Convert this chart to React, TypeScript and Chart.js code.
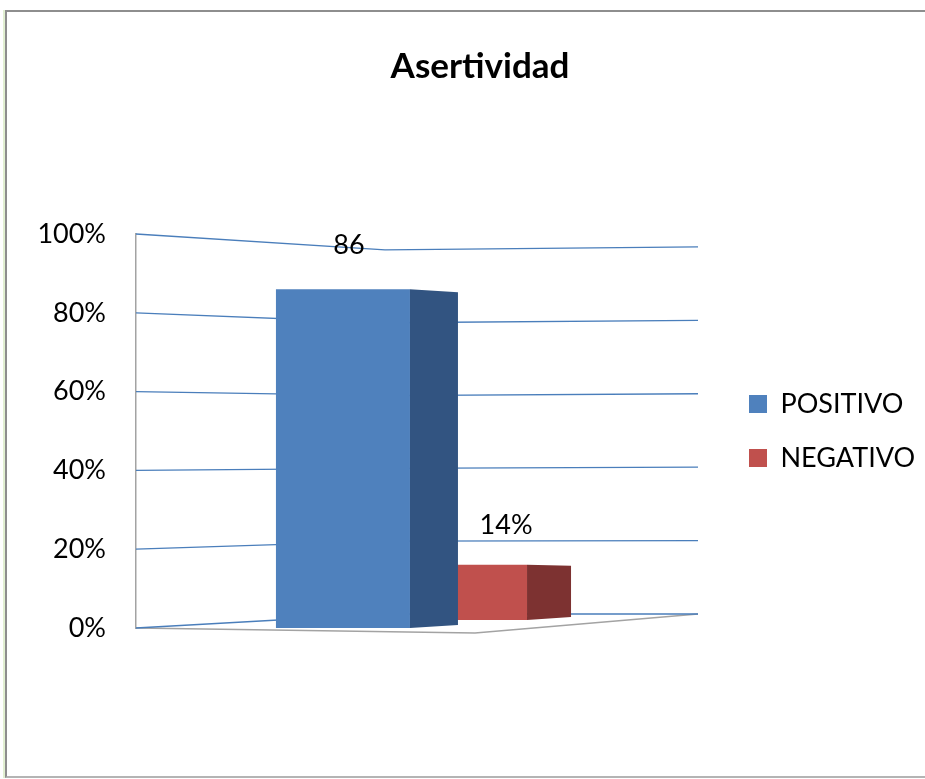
import React, { useEffect, useRef } from 'react';
import { Chart, registerables } from 'chart.js';

Chart.register(...registerables);

// ---- data ----
const TITLE = 'Asertividad';
const CATEGORIES = [''];
const SERIES_NAMES = ['POSITIVO', 'NEGATIVO'];
const POSITIVO = [0.86];
const NEGATIVO = [0.14];
const VALUE_LABELS = ['86', '14%'];
const Y_TICKS = [0, 0.2, 0.4, 0.6, 0.8, 1];

// ---- style ----
const FONT = 'Lato';
const TEXT_SIZE = 27;
const TITLE_SIZE = 35;
const FRONT_COLORS = ['#4F81BD', '#C0504D'];
const SIDE_COLORS = ['#325481', '#7D3231'];
const GRID_COLOR = '#4A7EBB';
const EDGE_COLOR = '#A3A3A3';

// ---- layout ----
const CANVAS_W = 952;
const CANVAS_H = 779;
const PLOT_LEFT = 136;
const PLOT_RIGHT = 698;
const TITLE_CENTER_X = 480;
const LEGEND_GAP = 24;
const LEGEND_PAD = 27;
const LEGEND_BOX = 18;

// 3-D look (offsets applied to the bars that Chart.js positions)
const SIDE_DX = [48, 44];
const SIDE_DY_TOP = [3, 1];
const SIDE_DY_BOTTOM = [-3, -3];
const SERIES_LIFT = [0, 8];
const WALL_DEPTH_X = 249;
const BACK_DROP = 14;
const BACK_SCALE = 0.924;
const BACK_TILT = 3;
const FLOOR_FRONT_DX = 339;
const FLOOR_FRONT_DY = 5;
const LABEL_DX = [6, 15];
const LABEL_GAP = [44, 40];

const threeD = {
  id: 'threeD',
  beforeDatasetsDraw(chart: any) {
    const { ctx, chartArea: a, scales } = chart;
    const y = scales.y;
    const backLeft = a.left + WALL_DEPTH_X;
    const span = a.bottom - a.top;
    ctx.save();
    ctx.strokeStyle = EDGE_COLOR;
    ctx.lineWidth = 1.5;
    ctx.beginPath();
    ctx.moveTo(a.left, a.bottom);
    ctx.lineTo(a.left + FLOOR_FRONT_DX, a.bottom + FLOOR_FRONT_DY);
    ctx.lineTo(a.right, a.bottom - BACK_DROP);
    ctx.stroke();
    ctx.strokeStyle = GRID_COLOR;
    ctx.lineWidth = 1.3;
    for (const v of Y_TICKS) {
      const yf = y.getPixelForValue(v);
      const h = a.bottom - yf;
      const yb = a.bottom - BACK_DROP - h * BACK_SCALE;
      const yr = yb - (BACK_TILT * h) / span;
      ctx.beginPath();
      ctx.moveTo(a.left, yf);
      ctx.lineTo(backLeft, yb);
      ctx.lineTo(a.right, yr);
      ctx.stroke();
    }
    ctx.restore();
  },
  beforeDatasetDraw(chart: any, args: any) {
    chart.ctx.save();
    chart.ctx.translate(0, -SERIES_LIFT[args.index]);
  },
  afterDatasetDraw(chart: any) {
    chart.ctx.restore();
  },
  afterDatasetsDraw(chart: any) {
    const { ctx } = chart;
    ctx.save();
    for (const i of [1, 0]) {
      const meta = chart.getDatasetMeta(i);
      meta.data.forEach((bar: any) => {
        const p = bar.getProps(['x', 'y', 'base', 'width'], true);
        const lift = SERIES_LIFT[i];
        const right = p.x + p.width / 2;
        const top = p.y - lift;
        const base = p.base - lift;
        ctx.fillStyle = SIDE_COLORS[i];
        ctx.beginPath();
        ctx.moveTo(right, top);
        ctx.lineTo(right + SIDE_DX[i], top + SIDE_DY_TOP[i]);
        ctx.lineTo(right + SIDE_DX[i], base + SIDE_DY_BOTTOM[i]);
        ctx.lineTo(right, base);
        ctx.closePath();
        ctx.fill();
      });
    }
    ctx.fillStyle = '#000';
    ctx.font = `${TEXT_SIZE}px ${FONT}`;
    ctx.textAlign = 'center';
    ctx.textBaseline = 'middle';
    for (let i = 0; i < 2; i++) {
      const meta = chart.getDatasetMeta(i);
      meta.data.forEach((bar: any) => {
        const p = bar.getProps(['x', 'y'], true);
        ctx.fillText(VALUE_LABELS[i], p.x + LABEL_DX[i], p.y - SERIES_LIFT[i] - LABEL_GAP[i]);
      });
    }
    ctx.restore();
  },
};

export default function App() {
  const ref = useRef<HTMLCanvasElement | null>(null);

  useEffect(() => {
    if (!ref.current) return;
    // measure legend width so the plot ends where the reference's does
    const mctx = document.createElement('canvas').getContext('2d')!;
    mctx.font = `${TEXT_SIZE}px ${FONT}`;
    const textW = Math.max(...SERIES_NAMES.map((s) => mctx.measureText(s).width));
    const legendW = LEGEND_PAD + LEGEND_BOX + TEXT_SIZE / 2 + textW + 10;
    const legendRight = PLOT_RIGHT + LEGEND_GAP + legendW;
    const padRight = CANVAS_W - legendRight;
    const padLeft = 2 * TITLE_CENTER_X - legendRight;
    const yAxisW = PLOT_LEFT - padLeft;
    const titleLine = TITLE_SIZE * 1.2;
    const padTop = 67 - titleLine / 2;

    const chart = new Chart(ref.current, {
      type: 'bar',
      data: {
        labels: CATEGORIES,
        datasets: [
          {
            label: SERIES_NAMES[0],
            data: POSITIVO,
            backgroundColor: FRONT_COLORS[0],
            borderWidth: 0,
            categoryPercentage: 0.527,
            barPercentage: 0.905,
          },
          {
            label: SERIES_NAMES[1],
            data: NEGATIVO,
            backgroundColor: FRONT_COLORS[1],
            borderWidth: 0,
            categoryPercentage: 0.527,
            barPercentage: 0.486,
          },
        ],
      },
      options: {
        responsive: false,
        animation: false,
        devicePixelRatio: 1,
        layout: { padding: { left: padLeft, right: padRight, top: padTop, bottom: 151 } },
        scales: {
          x: { display: false },
          y: {
            min: 0,
            max: 1,
            ticks: {
              stepSize: 0.2,
              padding: 30,
              color: '#000',
              font: { family: FONT, size: TEXT_SIZE },
              callback: (v: any) => Math.round(Number(v) * 100) + '%',
            },
            grid: { display: false, drawTicks: false },
            border: { display: true, color: EDGE_COLOR, width: 1.5 },
            afterFit: (s: any) => {
              s.width = yAxisW;
            },
          },
          y2: {
            type: 'linear',
            position: 'right',
            display: false,
            afterFit: (s: any) => {
              s.width = LEGEND_GAP;
            },
          },
        },
        plugins: {
          title: {
            display: true,
            text: TITLE,
            color: '#000',
            font: { family: FONT, size: TITLE_SIZE, weight: 'bold' },
            padding: { top: 0, bottom: 234 - padTop - titleLine },
          },
          legend: {
            position: 'right',
            fullSize: false,
            align: 'center',
            labels: {
              boxWidth: LEGEND_BOX,
              boxHeight: LEGEND_BOX,
              padding: LEGEND_PAD,
              color: '#000',
              font: { family: FONT, size: TEXT_SIZE },
            },
          },
          tooltip: { enabled: false },
        },
      },
      plugins: [threeD],
    } as any);
    return () => chart.destroy();
  }, []);

  return (
    <div
      style={{
        position: 'fixed',
        left: 0,
        top: 0,
        width: 925,
        height: 779,
        overflow: 'hidden',
        background: '#fff',
      }}
    >
      <canvas
        ref={ref}
        width={CANVAS_W}
        height={CANVAS_H}
        style={{ position: 'absolute', left: 0, top: 0 }}
      />
      <div
        style={{
          position: 'absolute',
          left: 5,
          top: 10,
          width: 980,
          height: 768,
          boxSizing: 'border-box',
          border: '2px solid #8e8e8e',
          borderBottomColor: '#b4b4b4',
          boxShadow: '-2px 0 0 #e2f0d2',
          pointerEvents: 'none',
        }}
      />
    </div>
  );
}
